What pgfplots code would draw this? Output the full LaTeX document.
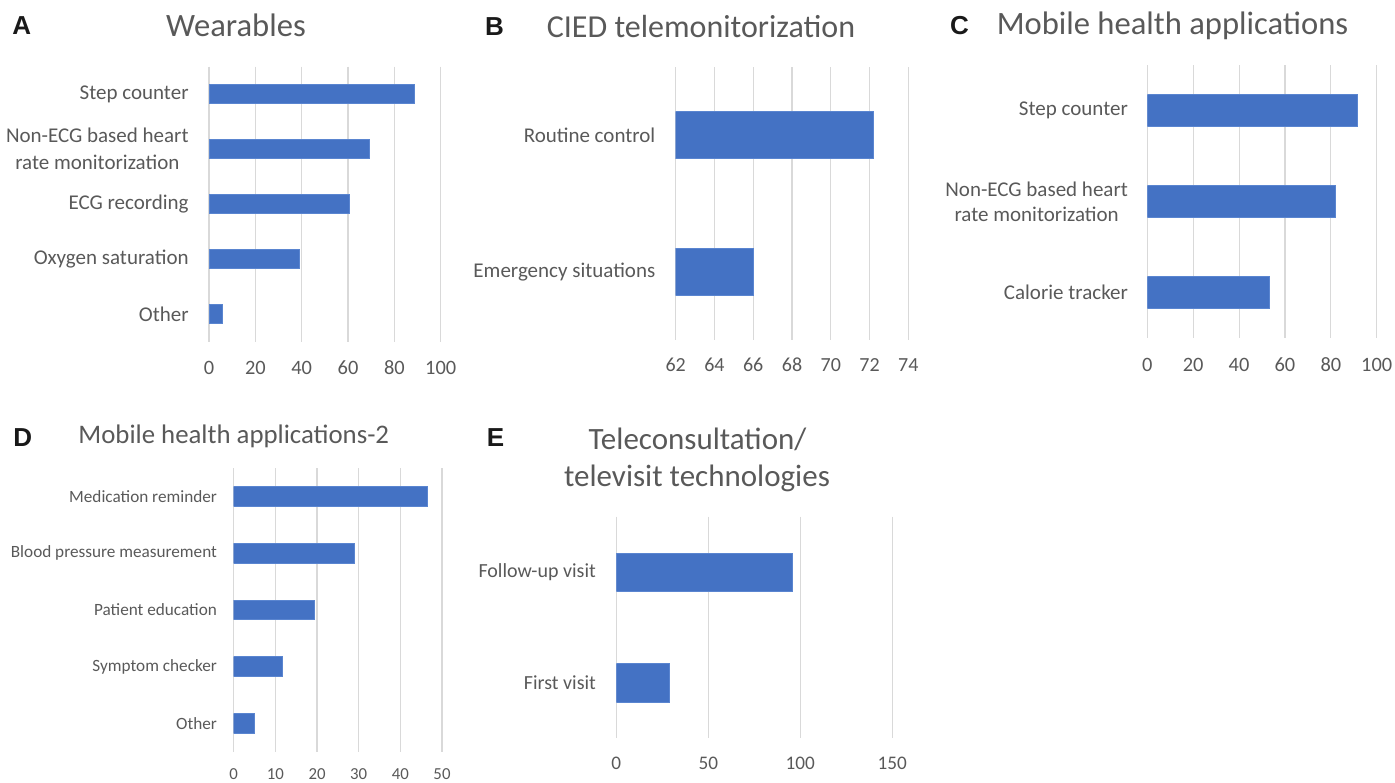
\documentclass[border=0pt]{standalone}
\usepackage{fontspec}
\setmainfont{Carlito}
\newfontfamily\letterfont{Liberation Sans}
\usepackage{pgfplots}
\pgfplotsset{compat=1.18}
\definecolor{barblue}{HTML}{4472C4}
\definecolor{baredge}{HTML}{5A85D0}
\definecolor{txt}{HTML}{595959}
\definecolor{gridc}{HTML}{D9D9D9}
\pgfplotsset{
  panel/.style={
    scale only axis,
    anchor=south west,
    xbar,
    y dir=reverse,
    axis line style={draw=none},
    major tick length=0pt,
    xmajorgrids,
    ymajorgrids=false,
    major grid style={draw=gridc, line width=0.55pt},
    /pgf/number format/assume math mode=true,
    tick label style={text=txt},
    yticklabel style={anchor=east, inner sep=0pt, align=center},
    xticklabel style={anchor=base, inner sep=0pt},
  },
  barstyle/.style={fill=barblue, draw=baredge, line width=0.4pt, bar width=0.345},
}
\begin{document}
\begin{tikzpicture}
\useasboundingbox (0pt,0pt) rectangle (697.5pt,-391pt);

% ---------------- A ----------------
\begin{axis}[panel,
  at={(104.5pt,-170.85pt)}, width=115.85pt, height=137.5pt,
  xmin=0, xmax=100, xtick={0,20,40,60,80,100},
  ymin=-0.5, ymax=4.5, ytick={0,1,2,3,4},
  yticklabels={{Step counter},{Non-ECG based heart\\rate monitorization},{ECG recording},{Oxygen saturation},{Other}},
  yticklabel style={xshift=-10pt, font=\fontsize{10.5}{13.5}\selectfont},
  xticklabel style={yshift=-16.5pt, font=\fontsize{10.2}{12}\selectfont},
]
\addplot[barstyle] coordinates {(88.5,0) (69.1,1) (60.4,2) (38.8,3) (5.8,4)};
\end{axis}

% ---------------- B ----------------
\begin{axis}[panel,
  at={(337.85pt,-170pt)}, width=116.3pt, height=136.5pt,
  xmin=62, xmax=74, xtick={62,64,66,68,70,72,74},
  ymin=-0.5, ymax=1.5, ytick={0,1},
  yticklabels={{Routine control},{Emergency situations}},
  yticklabel style={xshift=-10pt, font=\fontsize{10.5}{13.5}\selectfont},
  xticklabel style={yshift=-15.5pt, font=\fontsize{10}{12}\selectfont},
]
\addplot[barstyle] coordinates {(72.2,0) (66,1)};
\end{axis}

% ---------------- C ----------------
\begin{axis}[panel,
  at={(573.65pt,-169pt)}, width=114.7pt, height=136.5pt,
  xmin=0, xmax=100, xtick={0,20,40,60,80,100},
  ymin=-0.5, ymax=2.5, ytick={0,1,2},
  yticklabels={{Step counter},{Non-ECG based heart\\rate monitorization},{Calorie tracker}},
  yticklabel style={xshift=-9.5pt, font=\fontsize{10.5}{12.5}\selectfont},
  xticklabel style={yshift=-16.5pt, font=\fontsize{10.2}{12}\selectfont},
]
\addplot[barstyle] coordinates {(91.5,0) (81.8,1) (53.4,2)};
\end{axis}

% ---------------- D ----------------
\begin{axis}[panel,
  at={(116.85pt,-375.85pt)}, width=104.15pt, height=141.85pt,
  xmin=0, xmax=50, xtick={0,10,20,30,40,50},
  ymin=-0.5, ymax=4.5, ytick={0,1,2,3,4},
  yticklabels={{Medication reminder},{Blood pressure measurement},{Patient education},{Symptom checker},{Other}},
  yticklabel style={xshift=-8.2pt, font=\fontsize{8.6}{10.5}\selectfont},
  xticklabel style={yshift=-13.8pt, font=\fontsize{8.4}{10}\selectfont},
]
\addplot[barstyle] coordinates {(46.4,0) (29.0,1) (19.4,2) (11.7,3) (4.95,4)};
\end{axis}

% ---------------- E ----------------
\begin{axis}[panel,
  at={(308.15pt,-369.15pt)}, width=138pt, height=110.8pt,
  xmin=0, xmax=150, xtick={0,50,100,150},
  ymin=-0.5, ymax=1.5, ytick={0,1},
  yticklabels={{Follow-up visit},{First visit}},
  yticklabel style={xshift=-10pt, font=\fontsize{10}{12}\selectfont},
  xticklabel style={yshift=-15.5pt, font=\fontsize{9.6}{11.5}\selectfont},
]
\addplot[barstyle] coordinates {(95.7,0) (28.8,1)};
\end{axis}

% ---------------- titles ----------------
\begin{scope}[every node/.style={inner sep=0pt, text=txt}]
\node[anchor=base, font=\fontsize{16.3}{19}\selectfont] at (118pt,-18pt) {Wearables};
\node[anchor=base, font=\fontsize{16}{19}\selectfont] at (350.5pt,-18.7pt) {CIED telemonitorization};
\node[anchor=base, font=\fontsize{16.3}{19}\selectfont] at (586.25pt,-17.2pt) {Mobile health applications};
\node[anchor=base, font=\fontsize{13.4}{16}\selectfont] at (116.9pt,-221.7pt) {Mobile health applications-2};
\node[anchor=base, font=\fontsize{15.5}{18}\selectfont] at (348.75pt,-224.7pt) {Teleconsultation/};
\node[anchor=base, font=\fontsize{15.5}{18}\selectfont] at (348.5pt,-243pt) {televisit technologies};
\end{scope}
\begin{scope}[every node/.style={inner sep=0pt, anchor=base west, font=\letterfont\bfseries\fontsize{13}{15}\selectfont, text=black!90}]
\node at (6pt,-17pt) {A};
\node at (242.3pt,-17.5pt) {B};
\node at (474.8pt,-17.2pt) {C};
\node at (6.5pt,-223.3pt) {D};
\node at (243.2pt,-223.3pt) {E};
\end{scope}
\end{tikzpicture}
\end{document}
